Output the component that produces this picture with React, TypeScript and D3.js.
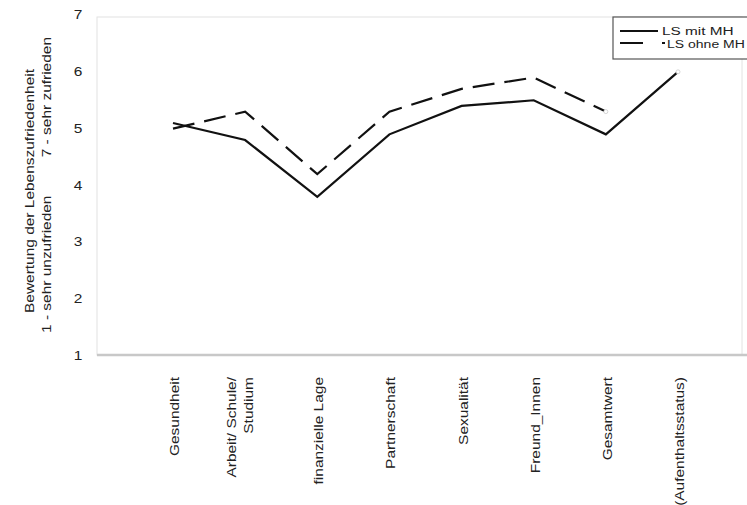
import React from "react";
import * as d3 from "d3";

const categories = [
  "Gesundheit",
  "Arbeit/ Schule/\nStudium",
  "finanzielle Lage",
  "Partnerschaft",
  "Sexualität",
  "Freund_Innen",
  "Gesamtwert",
  "(Aufenthaltsstatus)",
];
const lsMitMH: (number | null)[] = [5.1, 4.8, 3.8, 4.9, 5.4, 5.5, 4.9, 6.0];
const lsOhneMH: (number | null)[] = [5.0, 5.3, 4.2, 5.3, 5.7, 5.9, 5.3, null];
const yTicks = [1, 2, 3, 4, 5, 6, 7];
const seriesNames = ["LS mit MH", "LS ohne MH"];
const yTitle = "Bewertung der Lebenszufriedenheit";
const yLow = "1 - sehr unzufrieden";
const yHigh = "7 - sehr zufrieden";

const W = 747;
const H = 505;
const FONT = "'Liberation Sans', Arial, sans-serif";
const SX = 1.29;
const TEXT = "#222";

export default function App() {
  const x = d3.scalePoint<string>().domain(categories).range([173, 678]).padding(0);
  const y = d3.scaleLinear().domain([1, 7]).range([356, 15]);

  const line = d3
    .line<number | null>()
    .defined((d) => d != null)
    .x((_, i) => x(categories[i]) as number)
    .y((d) => y(d as number));

  const lastIdx = (arr: (number | null)[]) => {
    let k = -1;
    arr.forEach((v, i) => {
      if (v != null) k = i;
    });
    return k;
  };

  const frame = { x0: 97, x1: 742, y0: 17, y1: 355 };

  return (
    <svg
      width={W}
      height={H}
      style={{ position: "absolute", left: 0, top: 0, background: "#fff" }}
      fontFamily={FONT}
    >
      <rect x={0} y={0} width={W} height={H} fill="#fff" />
      {/* plot frame */}
      <rect
        x={frame.x0}
        y={frame.y0}
        width={frame.x1 - frame.x0}
        height={frame.y1 - frame.y0}
        fill="none"
        stroke="#e2e2e2"
        strokeWidth={1}
      />
      <line x1={frame.x0} x2={W} y1={frame.y1} y2={frame.y1} stroke="#c8c8c8" strokeWidth={2.5} />

      {/* y tick labels */}
      {yTicks.map((t) => (
        <text
          key={t}
          transform={`translate(78,${y(t) + 4}) scale(${SX},1)`}
          textAnchor="middle"
          fontSize={12}
          fill={TEXT}
        >
          {t}
        </text>
      ))}

      {/* y title */}
      <text
        transform={`translate(34,191) rotate(-90) scale(${SX},1)`}
        textAnchor="middle"
        fontSize={12}
        fill={TEXT}
      >
        {yTitle}
      </text>
      <text
        transform={`translate(51,333) rotate(-90) scale(${SX},1)`}
        textAnchor="start"
        fontSize={12}
        fill={TEXT}
      >
        {yLow}
      </text>
      <text
        transform={`translate(51,37) rotate(-90) scale(${SX},1)`}
        textAnchor="end"
        fontSize={12}
        fill={TEXT}
      >
        {yHigh}
      </text>

      {/* x labels */}
      {categories.map((c) => {
        const lines = c.split("\n");
        const cx = (x(c) as number) + (lines.length > 1 ? -5 : 2);
        return lines.map((ln, j) => {
          const off = (j - (lines.length - 1) / 2) * 17;
          return (
            <text
              key={c + j}
              transform={`translate(${cx + off + 4},377) rotate(-90) scale(${SX},1)`}
              textAnchor="end"
              fontSize={12}
              fill={TEXT}
            >
              {ln}
            </text>
          );
        });
      })}

      {/* series */}
      <path d={line(lsMitMH) || ""} fill="none" stroke="#111" strokeWidth={2.2} strokeLinejoin="miter" />
      <path
        d={line(lsOhneMH) || ""}
        fill="none"
        stroke="#111"
        strokeWidth={2.2}
        strokeDasharray="22,10"
      />
      {[lsMitMH, lsOhneMH].map((s, k) => {
        const i = lastIdx(s);
        return (
          <circle
            key={k}
            cx={x(categories[i]) as number}
            cy={y(s[i] as number)}
            r={2}
            fill="#fff"
            stroke="#ccc"
            strokeWidth={0.8}
          />
        );
      })}

      {/* legend */}
      <rect x={613} y={17} width={150} height={42} fill="#fff" stroke="#555" strokeWidth={1.2} />
      <line x1={620} x2={658} y1={31} y2={31} stroke="#111" strokeWidth={2} />
      <text transform={`translate(662,35) scale(1.36,1)`} fontSize={11.3} fill={TEXT}>
        {seriesNames[0]}
      </text>
      <line x1={620} x2={665} y1={43} y2={43} stroke="#111" strokeWidth={2} strokeDasharray="23,19,3" />
      <text transform={`translate(667,48) scale(1.24,1)`} fontSize={11.3} fill={TEXT}>
        {seriesNames[1]}
      </text>
    </svg>
  );
}
